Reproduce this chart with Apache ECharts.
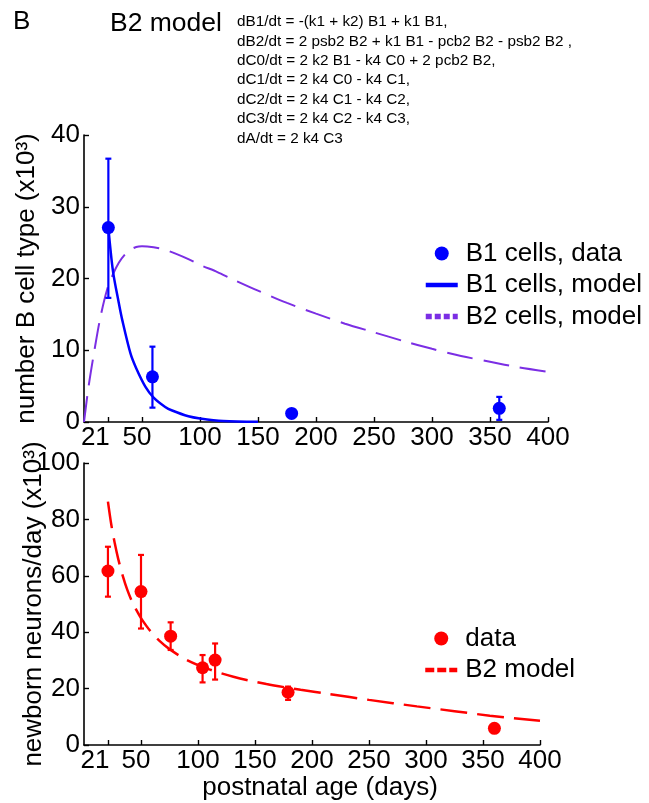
<!DOCTYPE html>
<html lang="en">
<head>
    <meta charset="UTF-8">
    <title>B2 model</title>
    <script src="https://cdn.jsdelivr.net/npm/echarts@6/dist/echarts.min.js"></script>
    <style>
        html, body { margin: 0; padding: 0; background: #fff; }
        #chart { width: 649px; height: 803px; }
    </style>
</head>
<body>
    <div id="chart"></div>
    <script type="text/javascript">
        // tick labels shared by both panels
        let xTicks = [21, 50, 100, 150, 200, 250, 300, 350, 400];

        // top panel: B1 data (age, mean, lower, upper)
        let b1Age = [21, 59, 179, 358];
        let b1Mean = [27.1, 6.3, 1.2, 1.9];
        let b1Low = [17.3, 2.0, null, 0.3];
        let b1High = [36.7, 10.5, null, 3.5];

        // B1 model curve
        let b1ModelAge = [21, 25, 30, 33, 40, 45, 53, 60, 70, 76, 90, 100, 120, 150];
        let b1ModelVal = [27.1, 21, 16.6, 14.2, 9.6, 7.5, 4.9, 3.4, 2.1, 1.6, 0.8, 0.5, 0.15, 0.02];

        // B2 model curve
        let b2ModelAge = [0, 4, 9, 14, 20, 25, 30, 35, 40, 45, 50, 60, 70, 80, 90, 100, 115, 128, 150, 175, 200, 225, 250, 275, 300, 325, 350, 375, 400];
        let b2ModelVal = [0, 5, 10, 14.5, 18.5, 20.6, 22.2, 23.3, 24.0, 24.4, 24.5, 24.35, 24.0, 23.4, 22.7, 21.9, 20.9, 19.9, 18.3, 16.6, 15.1, 13.7, 12.5, 11.3, 10.2, 9.2, 8.4, 7.6, 7.0];

        // bottom panel: newborn neurons data
        let nAge = [21, 50, 76, 104, 115, 179, 360];
        let nMean = [61.7, 54.4, 38.6, 27.4, 30.1, 18.7, 5.9];
        let nLow = [52.6, 41.3, 33.7, 22.2, 23.2, 16.0, null];
        let nHigh = [70.3, 67.4, 43.5, 31.9, 36.0, 20.7, null];

        // B2 model for newborn neurons
        let nModelAge = [21, 24, 27, 30, 34, 38, 42, 46, 50, 58, 66, 75, 90, 110, 131, 160, 190, 216, 250, 292, 325, 356, 400];
        let nModelVal = [86.3, 78, 71.5, 66, 60, 55, 51, 47.8, 45, 40.5, 37, 34, 30.2, 26.8, 24.2, 21.6, 19.6, 18.0, 16.0, 13.7, 12.0, 10.4, 8.6];

        let equations = [
            'dB1/dt = -(k1 + k2) B1 + k1 B1,',
            'dB2/dt = 2 psb2 B2 + k1 B1 - pcb2 B2 - psb2 B2 ,',
            'dC0/dt = 2 k2 B1 - k4 C0 + 2 pcb2 B2,',
            'dC1/dt = 2 k4 C0 - k4 C1,',
            'dC2/dt = 2 k4 C1 - k4 C2,',
            'dC3/dt = 2 k4 C2 - k4 C3,',
            'dA/dt = 2 k4 C3'
        ];

        const FONT = '"Liberation Sans", Arial, Helvetica, sans-serif';
        const BLUE = '#0000ff';
        const PURPLE = '#7b2ee4';
        const RED = '#ff0000';

        function zipPts(xs, ys) {
            return xs.map((x, i) => [x, ys[i]]);
        }
        function errData(xs, lo, hi) {
            let out = [];
            xs.forEach((x, i) => { if (lo[i] !== null) out.push([x, lo[i], hi[i]]); });
            return out;
        }
        function errRender(color) {
            return function (params, api) {
                let x = api.value(0);
                let p1 = api.coord([x, api.value(1)]);
                let p2 = api.coord([x, api.value(2)]);
                let w = 3;
                let st = {stroke: color, lineWidth: 2.2};
                return {
                    type: 'group',
                    children: [
                        {type: 'line', shape: {x1: p1[0], y1: p1[1], x2: p2[0], y2: p2[1]}, style: st},
                        {type: 'line', shape: {x1: p1[0] - w, y1: p1[1], x2: p1[0] + w, y2: p1[1]}, style: st},
                        {type: 'line', shape: {x1: p2[0] - w, y1: p2[1], x2: p2[0] + w, y2: p2[1]}, style: st}
                    ]
                };
            };
        }

        function xAxisFor(gridIndex, name) {
            return {
                type: 'value', gridIndex: gridIndex, min: 0, max: 400,
                name: name, nameLocation: 'middle', nameGap: 30, nameMoveOverlap: false,
                nameTextStyle: {fontFamily: FONT, fontSize: 26, color: '#000', padding: [0, 0, 0, 16]},
                axisLine: {show: true, onZero: false, lineStyle: {color: '#000', width: 1.6}},
                axisTick: {show: true, inside: true, length: 5, customValues: xTicks, lineStyle: {color: '#000', width: 1.4}},
                splitLine: {show: false},
                axisLabel: {
                    customValues: xTicks, margin: 3, color: '#000', fontFamily: FONT, fontSize: 26,
                    formatter: v => v === 21 ? '{a|21}' : (v === 50 ? '{b|50}' : String(v)),
                    rich: {
                        a: {fontFamily: FONT, fontSize: 26, color: '#000', padding: [0, 26, 0, 0]},
                        b: {fontFamily: FONT, fontSize: 26, color: '#000', padding: [0, 10, 0, 0]}
                    }
                }
            };
        }
        function yAxisFor(gridIndex, max, interval, name, gap) {
            return {
                type: 'value', gridIndex: gridIndex, min: 0, max: max, interval: interval,
                name: name, nameLocation: 'middle', nameRotate: 90, nameGap: gap, nameMoveOverlap: false,
                nameTextStyle: {fontFamily: FONT, fontSize: 26, color: '#000'},
                axisLine: {show: true, onZero: false, lineStyle: {color: '#000', width: 1.6}},
                axisTick: {show: true, inside: true, length: 5, lineStyle: {color: '#000', width: 1.4}},
                splitLine: {show: false},
                axisLabel: {margin: 4, color: '#000', fontFamily: FONT, fontSize: 26}
            };
        }

        let hideSym = {opacity: 0};
        let myChart = echarts.init(document.getElementById('chart'), null, {renderer: 'canvas'});
        let option = {
            backgroundColor: '#fff',
            animation: false,
            textStyle: {fontFamily: FONT},
            grid: [
                {left: 84, top: 135, width: 464, height: 287},
                {left: 84, top: 463, width: 456, height: 282}
            ],
            xAxis: [xAxisFor(0, ''), xAxisFor(1, 'postnatal age (days)')],
            yAxis: [
                yAxisFor(0, 40, 10, 'number B cell type (x10\u00b3)', 44),
                yAxisFor(1, 100, 20, 'newborn neurons/day (x10\u00b3)', 37)
            ],
            legend: [
                {
                    orient: 'vertical', left: 418, top: 235, itemWidth: 32, itemHeight: 14, itemGap: 4.5,
                    textStyle: {fontFamily: FONT, fontSize: 26, color: '#000', lineHeight: 27, padding: [0, 0, 0, 3]},
                    data: [
                        {name: 'B1 cells, data', icon: 'circle'},
                        {name: 'B1 cells, model', itemStyle: hideSym, lineStyle: {width: 4.5, type: 'solid'}},
                        {name: 'B2 cells, model', itemStyle: hideSym, lineStyle: {width: 5.5, type: [6, 3]}}
                    ]
                },
                {
                    orient: 'vertical', left: 418, top: 620, itemWidth: 32, itemHeight: 14, itemGap: 4.5,
                    textStyle: {fontFamily: FONT, fontSize: 26, color: '#000', lineHeight: 27, padding: [0, 0, 0, 3]},
                    data: [
                        {name: 'data', icon: 'circle'},
                        {name: 'B2 model', itemStyle: hideSym, lineStyle: {width: 4.5, type: [9, 3]}}
                    ]
                }
            ],
            graphic: [
                {type: 'text', x: 13, y: 21.5, style: {text: 'B', font: '26px ' + FONT, fill: '#000', verticalAlign: 'middle'}},
                {type: 'text', x: 110, y: 23.5, style: {text: 'B2 model', font: '26.5px ' + FONT, fill: '#000', verticalAlign: 'middle'}},
                {type: 'text', x: 237, y: 12.3, style: {text: equations.join('\n'), font: '15.3px ' + FONT, lineHeight: 19.4, fill: '#000', verticalAlign: 'top'}}
            ],
            series: [
                {
                    name: 'B2 cells, model', type: 'line', xAxisIndex: 0, yAxisIndex: 0,
                    data: zipPts(b2ModelAge, b2ModelVal), smooth: 0.3, symbol: 'none',
                    lineStyle: {color: PURPLE, width: 2, type: [26, 11]}, itemStyle: {color: PURPLE}, z: 2
                },
                {
                    name: 'B1 cells, model', type: 'line', xAxisIndex: 0, yAxisIndex: 0,
                    data: zipPts(b1ModelAge, b1ModelVal), smooth: 0.3, symbol: 'none',
                    lineStyle: {color: BLUE, width: 2.5}, itemStyle: {color: BLUE}, z: 3
                },
                {
                    name: 'b1err', type: 'custom', xAxisIndex: 0, yAxisIndex: 0,
                    data: errData(b1Age, b1Low, b1High), renderItem: errRender(BLUE),
                    encode: {x: 0, y: [1, 2]}, clip: false, z: 4, silent: true
                },
                {
                    name: 'B1 cells, data', type: 'scatter', xAxisIndex: 0, yAxisIndex: 0,
                    data: zipPts(b1Age, b1Mean), symbol: 'circle', symbolSize: 13,
                    itemStyle: {color: BLUE, opacity: 1}, z: 5
                },
                {
                    name: 'B2 model', type: 'line', xAxisIndex: 1, yAxisIndex: 1,
                    data: zipPts(nModelAge, nModelVal), smooth: 0.3, symbol: 'none',
                    lineStyle: {color: RED, width: 2.5, type: [27, 10]}, itemStyle: {color: RED}, z: 2
                },
                {
                    name: 'nerr', type: 'custom', xAxisIndex: 1, yAxisIndex: 1,
                    data: errData(nAge, nLow, nHigh), renderItem: errRender(RED),
                    encode: {x: 0, y: [1, 2]}, clip: false, z: 4, silent: true
                },
                {
                    name: 'data', type: 'scatter', xAxisIndex: 1, yAxisIndex: 1,
                    data: zipPts(nAge, nMean), symbol: 'circle', symbolSize: 13,
                    itemStyle: {color: RED, opacity: 1}, z: 5
                }
            ]
        };
        myChart.setOption(option);
    </script>
</body>
</html>
